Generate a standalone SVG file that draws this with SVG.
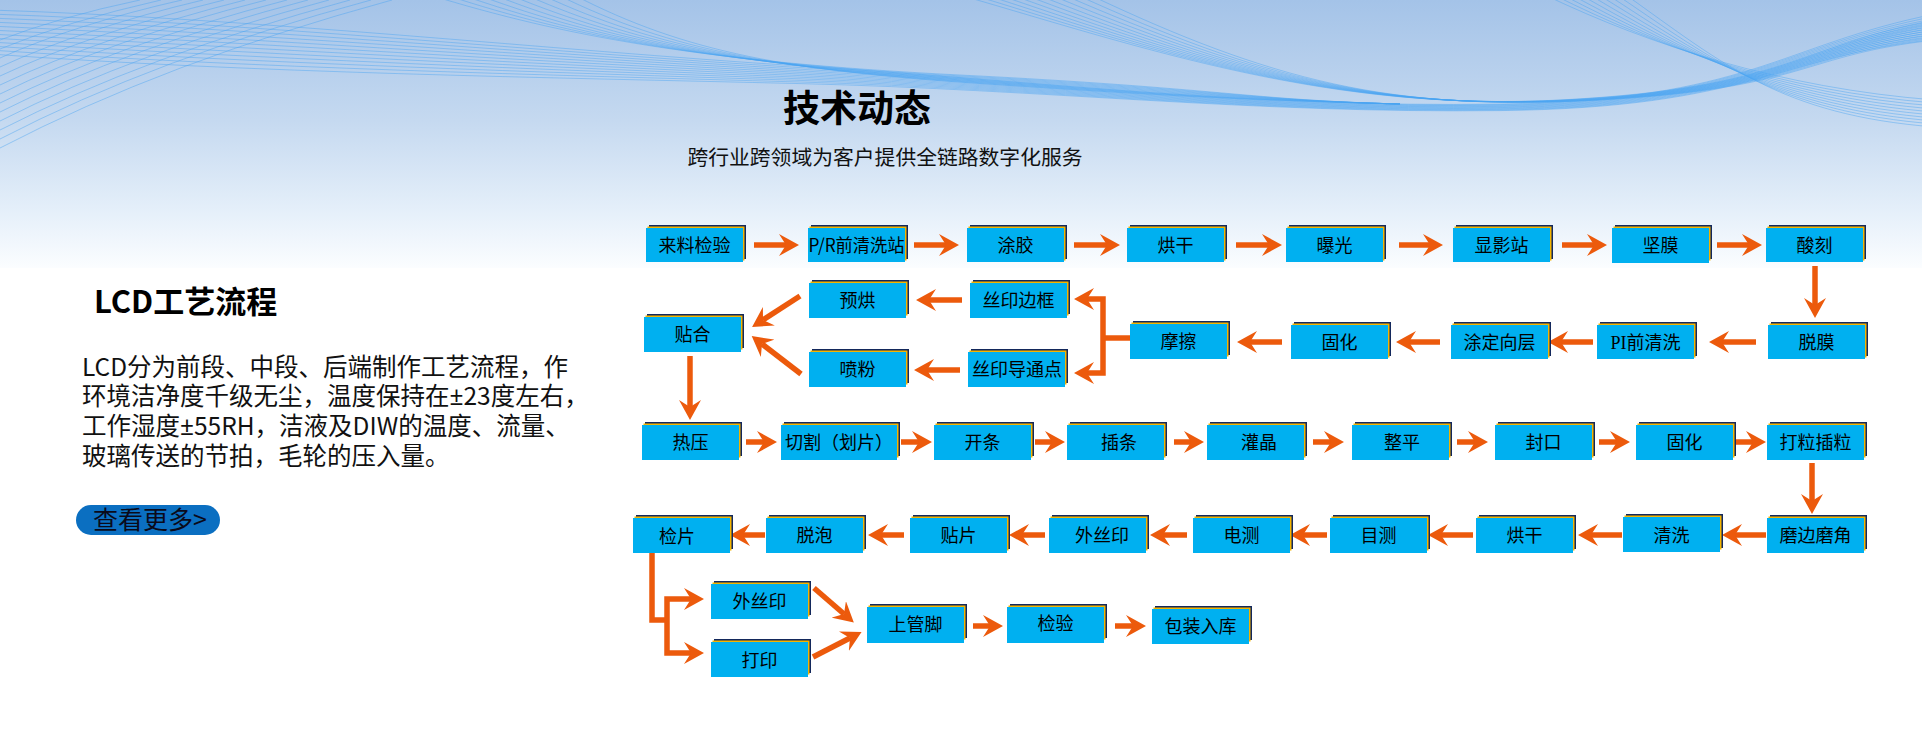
<svg xmlns="http://www.w3.org/2000/svg" width="1922" height="729" viewBox="0 0 1922 729">
<defs>
<linearGradient id="bg" x1="0" y1="0" x2="0" y2="1">
<stop offset="0" stop-color="#a4c3e8"/>
<stop offset="0.45" stop-color="#c5d9f0"/>
<stop offset="0.8" stop-color="#e6f0fa"/>
<stop offset="1" stop-color="#fbfdff"/>
</linearGradient>
<marker id="ah" markerUnits="userSpaceOnUse" markerWidth="20" markerHeight="22" refX="7" refY="11" orient="auto" viewBox="0 0 20 22">
<path d="M0,0 L20,11 L0,22 L7,11 Z" fill="#ec5a0c"/>
</marker>
<style>
.w{fill:none;stroke:#4aa3f2;stroke-width:0.9;stroke-opacity:0.5}
.bk{fill:#13285c}
.gd{fill:#f4b400}
.cy{fill:#00b0f0}
.t{font-family:"Noto Sans CJK SC","Noto Sans",sans-serif;font-size:18px;fill:#000;text-anchor:middle}
.a{fill:none;stroke:#ec5a0c;stroke-width:5.5;marker-end:url(#ah)}
.l{fill:none;stroke:#ec5a0c;stroke-width:5.5;stroke-linejoin:miter}
.p{font-family:"Noto Sans CJK SC","Noto Sans",sans-serif;font-size:24.5px;fill:#111}
.pm{font-family:"Noto Sans",sans-serif}
</style>
</defs>
<rect width="1922" height="729" fill="#ffffff"/>
<rect width="1922" height="268" fill="url(#bg)"/>
<g id="waves">
<path class="w" d="M0,40 Q59,17 140,0"/>
<path class="w" d="M0,49 Q68,21 161,0"/>
<path class="w" d="M0,58 Q76,24 182,0"/>
<path class="w" d="M0,67 Q85,28 203,0"/>
<path class="w" d="M0,76 Q94,32 224,0"/>
<path class="w" d="M0,85 Q103,36 245,0"/>
<path class="w" d="M0,94 Q112,39 266,0"/>
<path class="w" d="M0,103 Q121,43 287,0"/>
<path class="w" d="M0,112 Q129,47 308,0"/>
<path class="w" d="M0,121 Q138,51 329,0"/>
<path class="w" d="M0,130 Q147,55 350,0"/>
<path class="w" d="M0,139 Q156,58 371,0"/>
<path class="w" d="M0,148 Q165,62 392,0"/>
<path class="w" d="M-10,10 C250,18 550,50 800,66 S1250,108 1500,104 S1780,45 1935,14"/>
<path class="w" d="M-10,14 C250,23 550,52.5 800,67.6 S1250,108.5 1500,104.6 S1780,46 1935,16.3"/>
<path class="w" d="M-10,18 C250,28 550,55 800,69.2 S1250,109 1500,105.2 S1780,47 1935,18.6"/>
<path class="w" d="M-10,22 C250,33 550,57.5 800,70.8 S1250,109.5 1500,105.8 S1780,48 1935,20.9"/>
<path class="w" d="M-10,26 C250,38 550,60 800,72.4 S1250,110 1500,106.4 S1780,49 1935,23.2"/>
<path class="w" d="M-10,30 C250,43 550,62.5 800,74 S1250,110.5 1500,107 S1780,50 1935,25.5"/>
<path class="w" d="M-10,34 C250,48 550,65 800,75.6 S1250,111 1500,107.6 S1780,51 1935,27.8"/>
<path class="w" d="M-10,38 C250,53 550,67.5 800,77.2 S1250,111.5 1500,108.2 S1780,52 1935,30.1"/>
<path class="w" d="M-10,42 C250,58 550,70 800,78.8 S1250,112 1500,108.8 S1780,53 1935,32.4"/>
<path class="w" d="M-10,46 C250,63 550,72.5 800,80.4 S1250,112.5 1500,109.4 S1780,54 1935,34.7"/>
<path class="w" d="M-10,50 C250,68 550,75 800,82 S1250,113 1500,110 S1780,55 1935,37"/>
<path class="w" d="M-10,54 C250,73 550,77.5 800,83.6 S1250,113.5 1500,110.6 S1780,56 1935,39.3"/>
<path class="w" d="M960,-5 C1150,50 1330,112 1560,100 S1800,45 1935,20"/>
<path class="w" d="M973,-5 C1162,53 1336,112 1564,100 S1800,46 1935,22"/>
<path class="w" d="M986,-5 C1174,56 1342,112 1568,100 S1800,47 1935,24"/>
<path class="w" d="M999,-5 C1186,59 1348,112 1572,100 S1800,48 1935,26"/>
<path class="w" d="M1012,-5 C1198,62 1354,112 1576,100 S1800,49 1935,28"/>
<path class="w" d="M1025,-5 C1210,65 1360,112 1580,100 S1800,50 1935,30"/>
<path class="w" d="M1038,-5 C1222,68 1366,112 1584,100 S1800,51 1935,32"/>
<path class="w" d="M1051,-5 C1234,71 1372,112 1588,100 S1800,52 1935,34"/>
<path class="w" d="M1064,-5 C1246,74 1378,112 1592,100 S1800,53 1935,36"/>
<path class="w" d="M1077,-5 C1258,77 1384,112 1596,100 S1800,54 1935,38"/>
<path class="w" d="M1090,-5 C1270,80 1390,112 1600,100 S1800,55 1935,40"/>
<path class="w" d="M1545,-5 C1650,45 1780,88 1935,100"/>
<path class="w" d="M1554,-5 C1658,47 1780,91 1935,103"/>
<path class="w" d="M1563,-5 C1666,49 1780,94 1935,106"/>
<path class="w" d="M1572,-5 C1674,51 1780,97 1935,109"/>
<path class="w" d="M1581,-5 C1682,53 1780,100 1935,112"/>
<path class="w" d="M1590,-5 C1690,55 1780,103 1935,115"/>
<path class="w" d="M1599,-5 C1698,57 1780,106 1935,118"/>
<path class="w" d="M1608,-5 C1706,59 1780,109 1935,121"/>
<path class="w" d="M1617,-5 C1714,61 1780,112 1935,124"/>
<path class="w" d="M1626,-5 C1722,63 1780,115 1935,127"/>
<path class="w" d="M430,-5 C560,35 700,62 960,75 S1250,100 1400,104"/>
<path class="w" d="M446,-5 C574,37 710,63 963,76 S1250,100 1400,104"/>
<path class="w" d="M462,-5 C588,39 720,64 966,77 S1250,100 1400,104"/>
<path class="w" d="M478,-5 C602,41 730,65 969,78 S1250,100 1400,104"/>
<path class="w" d="M494,-5 C616,43 740,66 972,79 S1250,100 1400,104"/>
<path class="w" d="M510,-5 C630,45 750,67 975,80 S1250,100 1400,104"/>
<path class="w" d="M526,-5 C644,47 760,68 978,81 S1250,100 1400,104"/>
<path class="w" d="M542,-5 C658,49 770,69 981,82 S1250,100 1400,104"/>
<path class="w" d="M558,-5 C672,51 780,70 984,83 S1250,100 1400,104"/>
<path class="w" d="M574,-5 C686,53 790,71 987,84 S1250,100 1400,104"/>
</g>
<g id="header">
<text x="857" y="122" text-anchor="middle" font-family="Noto Sans CJK SC, sans-serif" font-size="37" font-weight="700" fill="#000">技术动态</text>
<text x="885" y="165" text-anchor="middle" font-family="Noto Sans CJK SC, sans-serif" font-size="20.8" fill="#111">跨行业跨领域为客户提供全链路数字化服务</text>
</g>
<g id="intro">
<text x="94" y="313" font-family="Noto Sans CJK SC, sans-serif" font-size="31" font-weight="700" fill="#000">LCD工艺流程</text>
<text class="p" x="82" y="375.5">LCD分为前段、中段、后端制作工艺流程，作</text>
<text class="p" x="82" y="405">环境洁净度千级无尘，温度保持在<tspan class="pm">±</tspan>23度左右，</text>
<text class="p" x="82" y="435">工作湿度<tspan class="pm">±</tspan>55RH，洁液及DIW的温度、流量、</text>
<text class="p" x="82" y="464.5">玻璃传送的节拍，毛轮的压入量。</text>
</g>
<g id="btn-more">
<rect x="76" y="505" width="144" height="30" rx="15" fill="#0b6fc1"/>
<text x="93" y="529" font-family="Noto Sans CJK SC, sans-serif" font-size="25" fill="#0a0a1a">查看更多&gt;</text>
</g>
<g id="connectors">
<path class="a" d="M754,245 H786"/>
<path class="a" d="M914,245 H946"/>
<path class="a" d="M1074,245 H1107"/>
<path class="a" d="M1236,245 H1269"/>
<path class="a" d="M1399,245 H1430"/>
<path class="a" d="M1562,245 H1594"/>
<path class="a" d="M1717,245 H1749"/>
<path class="a" d="M1815,266 V305"/>
<path class="a" d="M1756,342 H1722"/>
<path class="a" d="M1593,342 H1561"/>
<path class="a" d="M1440,342 H1409"/>
<path class="a" d="M1282,342 H1250"/>
<path class="l" d="M1130,338 H1101"/>
<path class="a" d="M1103,338 V299 H1087"/>
<path class="a" d="M1103,338 V373 H1087"/>
<path class="a" d="M962,300 H929"/>
<path class="a" d="M960,370 H927"/>
<path class="a" d="M800,296 L763,320"/>
<path class="a" d="M801,374 L762,344"/>
<path class="a" d="M690,356 V407"/>
<path class="a" d="M746,442 H764"/>
<path class="a" d="M901,442 H919"/>
<path class="a" d="M1035,442 H1052"/>
<path class="a" d="M1174,442 H1191"/>
<path class="a" d="M1313,442 H1331"/>
<path class="a" d="M1457,442 H1475"/>
<path class="a" d="M1599,442 H1617"/>
<path class="a" d="M1735,442 H1753"/>
<path class="a" d="M1812,463 V501"/>
<path class="a" d="M1766,535 H1735"/>
<path class="a" d="M1622,535 H1591"/>
<path class="a" d="M1473,535 H1441"/>
<path class="a" d="M1327,535 H1303"/>
<path class="a" d="M1187,535 H1163"/>
<path class="a" d="M1045,535 H1022"/>
<path class="a" d="M904,535 H881"/>
<path class="a" d="M765,535 H743"/>
<path class="l" d="M652,553 V620 H669"/>
<path class="a" d="M667,620 V599 H691"/>
<path class="a" d="M667,620 V653 H691"/>
<path class="a" d="M814,588 L844,614"/>
<path class="a" d="M813,657 L850,638"/>
<path class="a" d="M973,626 H990"/>
<path class="a" d="M1115,626 H1133"/>
</g>
<g id="n01" transform="translate(646,228)"><rect class="bk" x="3" y="-3" width="97" height="34"/><rect class="gd" x="1.5" y="-1.5" width="97" height="34"/><rect class="cy" width="97" height="34"/><text class="t" x="48.5" y="23.5">来料检验</text></g>
<g id="n02" transform="translate(808,228)"><rect class="bk" x="3" y="-3" width="97" height="34"/><rect class="gd" x="1.5" y="-1.5" width="97" height="34"/><rect class="cy" width="97" height="34"/><text class="t" x="48.5" y="23.5" font-size="17" textLength="96" lengthAdjust="spacingAndGlyphs">P/R前清洗站</text></g>
<g id="n03" transform="translate(967,228)"><rect class="bk" x="3" y="-3" width="97" height="34"/><rect class="gd" x="1.5" y="-1.5" width="97" height="34"/><rect class="cy" width="97" height="34"/><text class="t" x="48.5" y="23.5">涂胶</text></g>
<g id="n04" transform="translate(1127,228)"><rect class="bk" x="3" y="-3" width="97" height="34"/><rect class="gd" x="1.5" y="-1.5" width="97" height="34"/><rect class="cy" width="97" height="34"/><text class="t" x="48.5" y="23.5">烘干</text></g>
<g id="n05" transform="translate(1286,228)"><rect class="bk" x="3" y="-3" width="97" height="34"/><rect class="gd" x="1.5" y="-1.5" width="97" height="34"/><rect class="cy" width="97" height="34"/><text class="t" x="48.5" y="23.5">曝光</text></g>
<g id="n06" transform="translate(1453,228)"><rect class="bk" x="3" y="-3" width="97" height="34"/><rect class="gd" x="1.5" y="-1.5" width="97" height="34"/><rect class="cy" width="97" height="34"/><text class="t" x="48.5" y="23.5">显影站</text></g>
<g id="n07" transform="translate(1612,228)"><rect class="bk" x="3" y="-3" width="97" height="34"/><rect class="gd" x="1.5" y="-1.5" width="97" height="34"/><rect class="cy" width="97" height="35"/><text class="t" x="48.5" y="23.5">坚膜</text></g>
<g id="n08" transform="translate(1766,228)"><rect class="bk" x="3" y="-3" width="97" height="34"/><rect class="gd" x="1.5" y="-1.5" width="97" height="34"/><rect class="cy" width="97" height="34"/><text class="t" x="48.5" y="23.5">酸刻</text></g>
<g id="n09" transform="translate(1768,325)"><rect class="bk" x="3" y="-3" width="97" height="34"/><rect class="gd" x="1.5" y="-1.5" width="97" height="34"/><rect class="cy" width="97" height="34"/><text class="t" x="48.5" y="23.5">脱膜</text></g>
<g id="n10" transform="translate(1597,325)"><rect class="bk" x="3" y="-3" width="97" height="34"/><rect class="gd" x="1.5" y="-1.5" width="97" height="34"/><rect class="cy" width="97" height="34"/><text class="t" x="48.5" y="23.5"><tspan font-family="Liberation Serif, serif">PI</tspan>前清洗</text></g>
<g id="n11" transform="translate(1451,325)"><rect class="bk" x="3" y="-3" width="97" height="34"/><rect class="gd" x="1.5" y="-1.5" width="97" height="34"/><rect class="cy" width="97" height="34"/><text class="t" x="48.5" y="23.5">涂定向层</text></g>
<g id="n12" transform="translate(1291,325)"><rect class="bk" x="3" y="-3" width="97" height="34"/><rect class="gd" x="1.5" y="-1.5" width="97" height="34"/><rect class="cy" width="97" height="34"/><text class="t" x="48.5" y="23.5">固化</text></g>
<g id="n13" transform="translate(1130,324)"><rect class="bk" x="3" y="-3" width="97" height="34"/><rect class="gd" x="1.5" y="-1.5" width="97" height="34"/><rect class="cy" width="97" height="35"/><text class="t" x="48.5" y="24">摩擦</text></g>
<g id="n14" transform="translate(970,283)"><rect class="bk" x="3" y="-3" width="97" height="34"/><rect class="gd" x="1.5" y="-1.5" width="97" height="34"/><rect class="cy" width="97" height="35"/><text class="t" x="48.5" y="24">丝印边框</text></g>
<g id="n15" transform="translate(968,352)"><rect class="bk" x="3" y="-3" width="97" height="34"/><rect class="gd" x="1.5" y="-1.5" width="97" height="34"/><rect class="cy" width="97" height="35"/><text class="t" x="49" y="24">丝印导通点</text></g>
<g id="n16" transform="translate(809,283)"><rect class="bk" x="3" y="-3" width="97" height="34"/><rect class="gd" x="1.5" y="-1.5" width="97" height="34"/><rect class="cy" width="97" height="35"/><text class="t" x="48.5" y="24">预烘</text></g>
<g id="n17" transform="translate(809,352)"><rect class="bk" x="3" y="-3" width="97" height="34"/><rect class="gd" x="1.5" y="-1.5" width="97" height="34"/><rect class="cy" width="97" height="35"/><text class="t" x="48.5" y="24">喷粉</text></g>
<g id="n18" transform="translate(644,317)"><rect class="bk" x="3" y="-3" width="97" height="34"/><rect class="gd" x="1.5" y="-1.5" width="97" height="34"/><rect class="cy" width="97" height="35"/><text class="t" x="48.5" y="24">贴合</text></g>
<g id="n19" transform="translate(642,425)"><rect class="bk" x="3" y="-3" width="97" height="34"/><rect class="gd" x="1.5" y="-1.5" width="97" height="34"/><rect class="cy" width="97" height="35"/><text class="t" x="48.5" y="24">热压</text></g>
<g id="n20" transform="translate(781,425)"><rect class="bk" x="3" y="-3" width="116" height="34"/><rect class="gd" x="1.5" y="-1.5" width="116" height="34"/><rect class="cy" width="116" height="35"/><text class="t" x="58" y="24">切割（划片）</text></g>
<g id="n21" transform="translate(934,425)"><rect class="bk" x="3" y="-3" width="97" height="34"/><rect class="gd" x="1.5" y="-1.5" width="97" height="34"/><rect class="cy" width="97" height="35"/><text class="t" x="48.5" y="24">开条</text></g>
<g id="n22" transform="translate(1067,425)"><rect class="bk" x="3" y="-3" width="97" height="34"/><rect class="gd" x="1.5" y="-1.5" width="97" height="34"/><rect class="cy" width="97" height="35"/><text class="t" x="52" y="24">插条</text></g>
<g id="n23" transform="translate(1207,425)"><rect class="bk" x="3" y="-3" width="97" height="34"/><rect class="gd" x="1.5" y="-1.5" width="97" height="34"/><rect class="cy" width="97" height="35"/><text class="t" x="52" y="24">灌晶</text></g>
<g id="n24" transform="translate(1352,425)"><rect class="bk" x="3" y="-3" width="97" height="34"/><rect class="gd" x="1.5" y="-1.5" width="97" height="34"/><rect class="cy" width="97" height="35"/><text class="t" x="50" y="24">整平</text></g>
<g id="n25" transform="translate(1495,425)"><rect class="bk" x="3" y="-3" width="97" height="34"/><rect class="gd" x="1.5" y="-1.5" width="97" height="34"/><rect class="cy" width="97" height="35"/><text class="t" x="48.5" y="24">封口</text></g>
<g id="n26" transform="translate(1636,425)"><rect class="bk" x="3" y="-3" width="97" height="34"/><rect class="gd" x="1.5" y="-1.5" width="97" height="34"/><rect class="cy" width="97" height="35"/><text class="t" x="48.5" y="24">固化</text></g>
<g id="n27" transform="translate(1767,425)"><rect class="bk" x="3" y="-3" width="97" height="34"/><rect class="gd" x="1.5" y="-1.5" width="97" height="34"/><rect class="cy" width="97" height="35"/><text class="t" x="48.5" y="24">打粒插粒</text></g>
<g id="n28" transform="translate(1767,518)"><rect class="bk" x="3" y="-3" width="97" height="34"/><rect class="gd" x="1.5" y="-1.5" width="97" height="34"/><rect class="cy" width="97" height="35"/><text class="t" x="48.5" y="24">磨边磨角</text></g>
<g id="n29" transform="translate(1623,517)"><rect class="bk" x="3" y="-3" width="97" height="34"/><rect class="gd" x="1.5" y="-1.5" width="97" height="34"/><rect class="cy" width="97" height="35"/><text class="t" x="48.5" y="25">清洗</text></g>
<g id="n30" transform="translate(1476,518)"><rect class="bk" x="3" y="-3" width="97" height="34"/><rect class="gd" x="1.5" y="-1.5" width="97" height="34"/><rect class="cy" width="97" height="35"/><text class="t" x="48.5" y="24">烘干</text></g>
<g id="n31" transform="translate(1330,518)"><rect class="bk" x="3" y="-3" width="97" height="34"/><rect class="gd" x="1.5" y="-1.5" width="97" height="34"/><rect class="cy" width="97" height="35"/><text class="t" x="48.5" y="24">目测</text></g>
<g id="n32" transform="translate(1193,518)"><rect class="bk" x="3" y="-3" width="97" height="34"/><rect class="gd" x="1.5" y="-1.5" width="97" height="34"/><rect class="cy" width="97" height="35"/><text class="t" x="48.5" y="24">电测</text></g>
<g id="n33" transform="translate(1049,518)"><rect class="bk" x="3" y="-3" width="97" height="34"/><rect class="gd" x="1.5" y="-1.5" width="97" height="34"/><rect class="cy" width="97" height="35"/><text class="t" x="53" y="24">外丝印</text></g>
<g id="n34" transform="translate(910,518)"><rect class="bk" x="3" y="-3" width="97" height="34"/><rect class="gd" x="1.5" y="-1.5" width="97" height="34"/><rect class="cy" width="97" height="35"/><text class="t" x="48.5" y="24">贴片</text></g>
<g id="n35" transform="translate(766,518)"><rect class="bk" x="3" y="-3" width="97" height="34"/><rect class="gd" x="1.5" y="-1.5" width="97" height="34"/><rect class="cy" width="97" height="35"/><text class="t" x="48.5" y="24">脱泡</text></g>
<g id="n36" transform="translate(633,518)"><rect class="bk" x="3" y="-3" width="97" height="34"/><rect class="gd" x="1.5" y="-1.5" width="97" height="34"/><rect class="cy" width="97" height="35"/><text class="t" x="44" y="25">检片</text></g>
<g id="n37" transform="translate(711,584)"><rect class="bk" x="3" y="-3" width="97" height="34"/><rect class="gd" x="1.5" y="-1.5" width="97" height="34"/><rect class="cy" width="97" height="35"/><text class="t" x="48.5" y="24">外丝印</text></g>
<g id="n38" transform="translate(711,642)"><rect class="bk" x="3" y="-3" width="97" height="34"/><rect class="gd" x="1.5" y="-1.5" width="97" height="34"/><rect class="cy" width="97" height="35"/><text class="t" x="48.5" y="25">打印</text></g>
<g id="n39" transform="translate(867,607)"><rect class="bk" x="3" y="-3" width="97" height="34"/><rect class="gd" x="1.5" y="-1.5" width="97" height="34"/><rect class="cy" width="97" height="36"/><text class="t" x="48.5" y="24">上管脚</text></g>
<g id="n40" transform="translate(1007,607)"><rect class="bk" x="3" y="-3" width="97" height="34"/><rect class="gd" x="1.5" y="-1.5" width="97" height="34"/><rect class="cy" width="97" height="36"/><text class="t" x="48.5" y="23">检验</text></g>
<g id="n41" transform="translate(1152,609)"><rect class="bk" x="3" y="-3" width="97" height="34"/><rect class="gd" x="1.5" y="-1.5" width="97" height="34"/><rect class="cy" width="97" height="35"/><text class="t" x="48.5" y="24">包装入库</text></g>
</svg>
